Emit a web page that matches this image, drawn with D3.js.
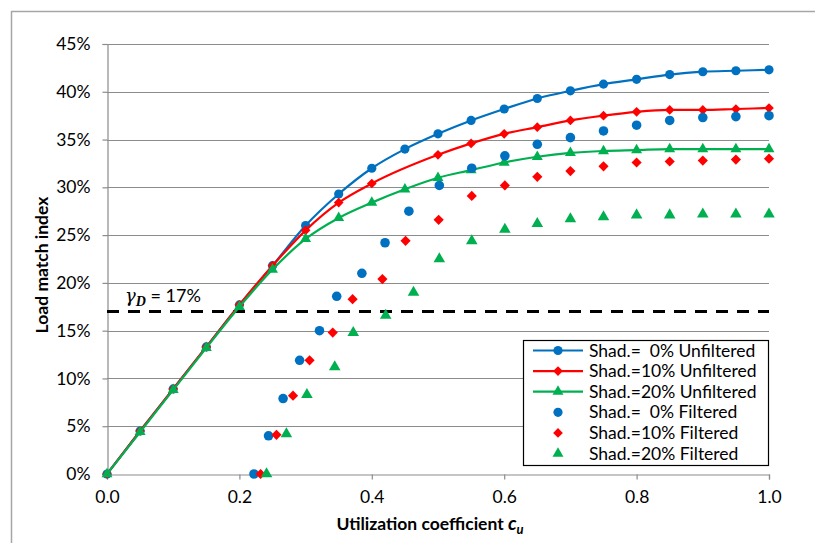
<!DOCTYPE html>
<html>
<head>
<meta charset="utf-8">
<script src="https://cdn.jsdelivr.net/npm/d3@7"></script>
<style>
  body { margin: 0; background: #fff; }
  svg { font-family: Lato, "Open Sans", sans-serif; }
</style>
</head>
<body>
<div id="drawArea"></div>
<script>
// x values of the unfiltered curves
var unfilteredX = [0, 0.05, 0.10, 0.15, 0.20, 0.25, 0.30, 0.35, 0.40, 0.45, 0.50,
    0.55, 0.60, 0.65, 0.70, 0.75, 0.80, 0.85, 0.90, 0.95, 1.00];
// load match index in %
var shad0Unfiltered = [0, 4.5, 8.9, 13.3, 17.7, 21.8, 26.0, 29.3, 32.0, 34.0, 35.6,
    37.0, 38.2, 39.3, 40.1, 40.8, 41.3, 41.8, 42.1, 42.2, 42.3];
var shad10Unfiltered = [0, 4.5, 8.9, 13.3, 17.7, 21.8, 25.5, 28.4, 30.4, null, 33.4,
    34.6, 35.6, 36.3, 37.0, 37.5, 37.9, 38.1, 38.1, 38.2, 38.3];
var shad20Unfiltered = [0, 4.4, 8.8, 13.2, 17.5, 21.4, 24.6, 26.8, 28.4, 29.8, 31.0,
    31.8, 32.6, 33.2, 33.6, 33.8, 33.9, 34.0, 34.0, 34.0, 34.0];

// filtered points (own x values)
var shad0FilteredX = [0.222, 0.244, 0.266, 0.291, 0.321, 0.347, 0.385, 0.420, 0.456, 0.502,
    0.551, 0.601, 0.650, 0.700, 0.750, 0.800, 0.850, 0.900, 0.950, 1.0];
var shad0Filtered = [0, 4.0, 7.9, 11.9, 15.0, 18.6, 21.0, 24.2, 27.5, 30.2,
    32.0, 33.3, 34.5, 35.2, 35.9, 36.5, 37.0, 37.3, 37.4, 37.5];
var shad10FilteredX = [0.232, 0.256, 0.281, 0.306, 0.341, 0.371, 0.416, 0.451, 0.501,
    0.551, 0.601, 0.650, 0.700, 0.750, 0.800, 0.850, 0.900, 0.950, 1.0];
var shad10Filtered = [0, 4.1, 8.2, 11.9, 14.8, 18.3, 20.4, 24.4, 26.6,
    29.1, 30.2, 31.1, 31.7, 32.2, 32.6, 32.7, 32.8, 32.9, 33.0];
var shad20FilteredX = [0.241, 0.271, 0.302, 0.344, 0.372, 0.421, 0.463, 0.502, 0.551,
    0.601, 0.650, 0.700, 0.750, 0.800, 0.850, 0.900, 0.950, 1.0];
var shad20Filtered = [0, 4.2, 8.3, 11.2, 14.8, 16.6, 19.0, 22.5, 24.4,
    25.6, 26.2, 26.7, 26.9, 27.1, 27.1, 27.2, 27.2, 27.2];

var xTicks = [0, 0.2, 0.4, 0.6, 0.8, 1.0];
var yTicks = [0, 5, 10, 15, 20, 25, 30, 35, 40, 45];
var designLimit = 17;

var legendNames = ['Shad.=\u00a0 0% Unfiltered', 'Shad.=10% Unfiltered', 'Shad.=20% Unfiltered',
    'Shad.=\u00a0 0% Filtered', 'Shad.=10% Filtered', 'Shad.=20% Filtered'];

var colors = ['#0070C0', '#FF0000', '#00B050'];
var symbols = [d3.symbolCircle, d3.symbolDiamond2, d3.symbolTriangle];
var symSize = [66, 60, 52];

var W = 815, H = 543;
var svg = d3.select('#drawArea').append('svg')
    .attr('width', W)
    .attr('height', H);

// outer chart border (runs off the right/bottom edge)
svg.append('path')
    .attr('d', 'M11.5,' + H + 'V11.5H' + W)
    .attr('fill', 'none')
    .attr('stroke', '#a6a6a6')
    .attr('stroke-width', 1.5);

var x = d3.scaleLinear().domain([0, 1]).range([107, 769]);
var y = d3.scaleLinear().domain([0, 45]).range([474, 44]);

// gridlines
svg.append('g')
    .selectAll('line')
    .data(yTicks.slice(1))
    .enter()
    .append('line')
    .attr('x1', x(0))
    .attr('x2', x(1))
    .attr('y1', function (d) { return Math.round(y(d)) + 0.5; })
    .attr('y2', function (d) { return Math.round(y(d)) + 0.5; })
    .attr('stroke', '#8c8c8c')
    .attr('stroke-width', 1.2);

// axes
var yAxis = svg.append('g')
    .attr('transform', 'translate(' + (x(0) + 0.5) + ',0)')
    .call(d3.axisLeft(y).tickValues(yTicks).tickSize(5).tickPadding(12)
        .tickFormat(function (d) { return d + '%'; }));
var xAxis = svg.append('g')
    .attr('transform', 'translate(0,' + (y(0) + 0.5) + ')')
    .call(d3.axisBottom(x).tickValues(xTicks).tickSize(5).tickPadding(11)
        .tickFormat(d3.format('.1f')));
[xAxis, yAxis].forEach(function (a) {
    a.select('.domain').attr('stroke', '#8c8c8c').attr('stroke-width', 1.2);
    a.selectAll('.tick line').attr('stroke', '#8c8c8c').attr('stroke-width', 1.2);
    a.selectAll('text').attr('fill', '#000').style('font-size', '17.5px')
        .style('font-family', 'Lato, sans-serif');
});

// axis titles
svg.append('text')
    .attr('transform', 'translate(48,265) rotate(-90)')
    .attr('text-anchor', 'middle')
    .style('font-size', '17.5px')
    .style('font-weight', 'bold')
    .text('Load match index');

var xt = svg.append('text')
    .attr('x', 430)
    .attr('y', 530)
    .attr('text-anchor', 'middle')
    .style('font-size', '17.5px')
    .style('font-weight', 'bold');
xt.append('tspan').text('Utilization coefficient ');
xt.append('tspan').style('font-style', 'italic').style('font-size', '19px').text('c');
xt.append('tspan').attr('dy', 4).style('font-style', 'italic').style('font-size', '13px').text('u');

// dashed 17% line
svg.append('line')
    .attr('x1', x(0))
    .attr('x2', x(1))
    .attr('y1', y(designLimit))
    .attr('y2', y(designLimit))
    .attr('stroke', '#000')
    .attr('stroke-width', 3)
    .attr('stroke-dasharray', '12,9');

var gl = svg.append('text')
    .attr('x', 125)
    .attr('y', 302)
    .style('font-size', '18px');
gl.append('tspan').style('font-style', 'italic').style('font-family', '"DejaVu Serif", serif')
    .style('font-size', '18px').text('\u03b3');
gl.append('tspan').attr('dy', 4).style('font-style', 'italic').style('font-weight', 'bold')
    .style('font-family', '"Liberation Serif", serif').style('font-size', '14px').text('D');
gl.append('tspan').attr('dy', -4).text(' = ' + designLimit + '%');

// unfiltered curves
var unfiltered = [shad0Unfiltered, shad10Unfiltered, shad20Unfiltered];
var line = d3.line()
    .x(function (d) { return x(d.x); })
    .y(function (d) { return y(d.v); })
    .curve(d3.curveMonotoneX);

unfiltered.forEach(function (vals, i) {
    var pts = unfilteredX.map(function (xv, j) { return { x: xv, v: vals[j] }; })
        .filter(function (d) { return d.v !== null; });
    svg.append('path')
        .datum(pts)
        .attr('d', line)
        .attr('fill', 'none')
        .attr('stroke', colors[i])
        .attr('stroke-width', 2.2);
    svg.append('g')
        .selectAll('path')
        .data(pts)
        .enter()
        .append('path')
        .attr('transform', function (d) { return 'translate(' + x(d.x) + ',' + y(d.v) + ')'; })
        .attr('d', d3.symbol().type(symbols[i]).size(symSize[i]))
        .attr('fill', colors[i]);
});

// filtered points
var filtered = [[shad0FilteredX, shad0Filtered], [shad10FilteredX, shad10Filtered], [shad20FilteredX, shad20Filtered]];
filtered.forEach(function (s, i) {
    svg.append('g')
        .selectAll('path')
        .data(s[0])
        .enter()
        .append('path')
        .attr('transform', function (d, j) { return 'translate(' + x(d) + ',' + y(s[1][j]) + ')'; })
        .attr('d', d3.symbol().type(symbols[i]).size(symSize[i] + 6))
        .attr('fill', colors[i]);
});

// legend
var legend = svg.append('g').attr('transform', 'translate(523,340)');
legend.append('rect')
    .attr('x', 0.5)
    .attr('y', 0.5)
    .attr('width', 245)
    .attr('height', 125)
    .attr('fill', '#fff')
    .attr('stroke', '#000')
    .attr('stroke-width', 1.2);

var rows = legend.selectAll('.row')
    .data(legendNames)
    .enter()
    .append('g')
    .attr('class', 'row')
    .attr('transform', function (d, i) { return 'translate(0,' + (10.5 + i * 20.6) + ')'; });
rows.filter(function (d, i) { return i < 3; })
    .append('line')
    .attr('x1', 10)
    .attr('x2', 60)
    .attr('stroke', function (d, i) { return colors[i]; })
    .attr('stroke-width', 2.2);
rows.append('path')
    .attr('transform', 'translate(35,0)')
    .attr('d', function (d, i) { return d3.symbol().type(symbols[i % 3]).size(symSize[i % 3])(); })
    .attr('fill', function (d, i) { return colors[i % 3]; });
rows.append('text')
    .attr('x', 66)
    .attr('dy', '0.35em')
    .style('font-size', '17.5px')
    .text(function (d) { return d; });
</script>
</body>
</html>
